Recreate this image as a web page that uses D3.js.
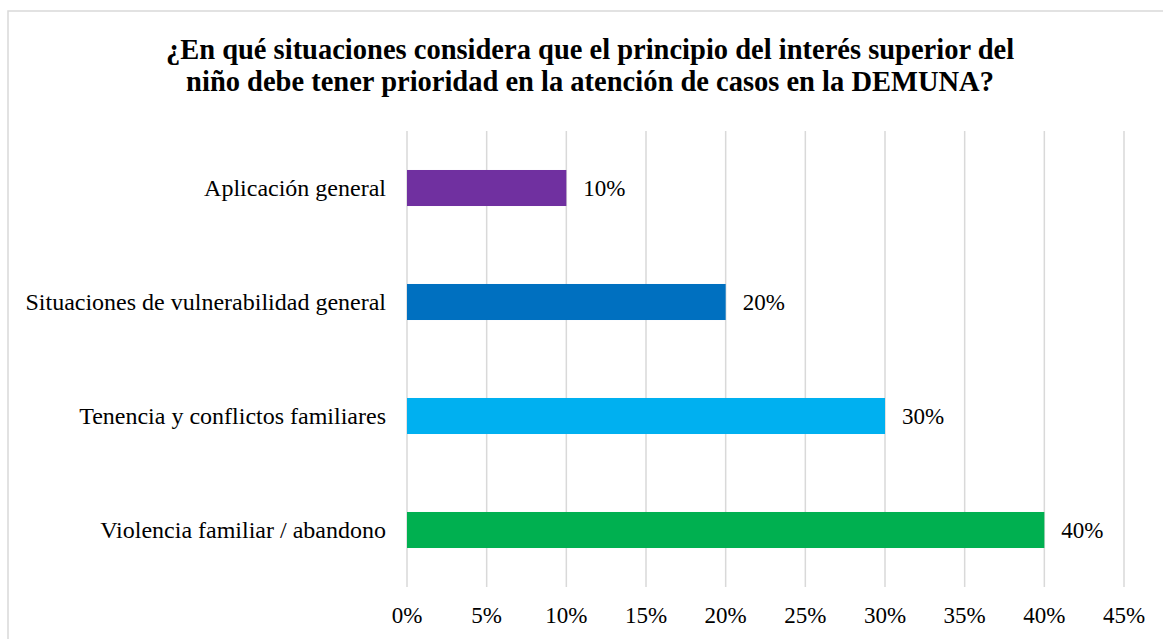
<!DOCTYPE html>
<html>
<head>
<meta charset="utf-8">
<script src="https://cdn.jsdelivr.net/npm/d3@7"></script>
<style>
  body { margin: 0; background: #fff; }
  text { font-family: "Liberation Serif", "Times New Roman", serif; fill: #000; }
</style>
</head>
<body>
<svg id="chart"></svg>
<script>
const categories = [
  "Aplicación general",
  "Situaciones de vulnerabilidad general",
  "Tenencia y conflictos familiares",
  "Violencia familiar / abandono"
];
const values = [10, 20, 30, 40];
const colors = ["#7030A0", "#0070C0", "#00B0F0", "#00B050"];
const ticks = [0, 5, 10, 15, 20, 25, 30, 35, 40, 45];
const title_lines = [
  "¿En qué situaciones considera que el principio del interés superior del",
  "niño debe tener prioridad en la atención de casos en la DEMUNA?"
];

const width = 1163, height = 639;
const margin = { top: 131, bottom: 52, left: 407, right: 39 };

const svg = d3.select("#chart")
  .attr("width", width)
  .attr("height", height);

// outer frame
svg.append("rect")
  .attr("x", 8).attr("y", 11)
  .attr("width", width).attr("height", height)
  .attr("fill", "none")
  .attr("stroke", "#d9d9d9")
  .attr("stroke-width", 1.5);

svg.append("text")
  .attr("text-anchor", "middle")
  .attr("font-weight", "bold")
  .attr("font-size", 28.5)
  .selectAll("tspan")
  .data(title_lines)
  .join("tspan")
  .attr("x", 590)
  .attr("y", (d, i) => 59 + i * 32)
  .text(d => d);

const X = d3.scaleLinear()
  .domain([0, 45])
  .range([margin.left, width - margin.right]);

const Y = d3.scaleBand()
  .domain(categories)
  .range([margin.top, height - margin.bottom])
  .paddingInner(0.684)
  .paddingOuter(0.342);

// gridlines
svg.append("g")
  .selectAll("line")
  .data(ticks)
  .join("line")
  .attr("x1", d => X(d)).attr("x2", d => X(d))
  .attr("y1", margin.top).attr("y2", height - margin.bottom)
  .attr("stroke", "#d9d9d9")
  .attr("stroke-width", 1.5);

// x tick labels
svg.append("g")
  .selectAll("text")
  .data(ticks)
  .join("text")
  .attr("x", d => X(d))
  .attr("y", 623)
  .attr("text-anchor", "middle")
  .attr("font-size", 23)
  .text(d => d + "%");

// bars
svg.append("g")
  .selectAll("rect")
  .data(categories)
  .join("rect")
  .attr("x", X(0))
  .attr("y", d => Y(d))
  .attr("width", (d, i) => X(values[i]) - X(0))
  .attr("height", Y.bandwidth())
  .attr("fill", (d, i) => colors[i]);

// category labels
svg.append("g")
  .selectAll("text")
  .data(categories)
  .join("text")
  .attr("x", X(0) - 21)
  .attr("y", d => Y(d) + Y.bandwidth() / 2)
  .attr("dy", "0.35em")
  .attr("text-anchor", "end")
  .attr("font-size", 24)
  .text(d => d);

// value labels
svg.append("g")
  .selectAll("text")
  .data(categories)
  .join("text")
  .attr("x", (d, i) => X(values[i]) + 17)
  .attr("y", d => Y(d) + Y.bandwidth() / 2)
  .attr("dy", "0.35em")
  .attr("font-size", 23)
  .text((d, i) => values[i] + "%");
</script>
</body>
</html>
